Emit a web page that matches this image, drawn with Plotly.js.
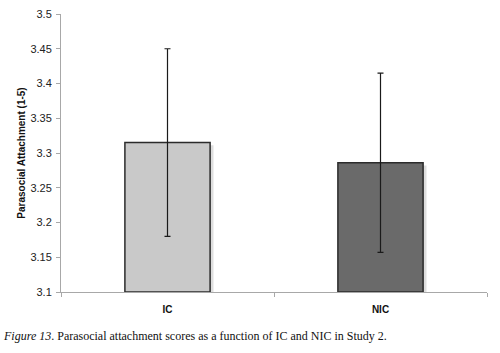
<!DOCTYPE html>
<html>
<head>
<meta charset="utf-8">
<script src="https://cdn.plot.ly/plotly-3.0.1.min.js"></script>
<style>html,body{margin:0;padding:0;background:#fff;}#chart{width:500px;height:353px;}</style>
</head>
<body>
<div id="chart"></div>
<script>
var categories = ["IC", "NIC"];
var means = [3.315, 3.286];
var errors = [0.135, 0.129];
var barColors = ["#c9c9c9", "#6a6a6a"];
var yTickVals = [3.1, 3.15, 3.2, 3.25, 3.3, 3.35, 3.4, 3.45, 3.5];
var yTickText = ["3.1", "3.15", "3.2", "3.25", "3.3", "3.35", "3.4", "3.45", "3.5"];
var yTitle = "Parasocial Attachment (1-5)";
var caption = "<i>Figure 13</i>. Parasocial attachment scores as a function of IC and NIC in Study 2.";

var shadow = {
  type: "bar", x: categories, base: 3.1,
  y: means.map(function(v){ return v - 3.1 - 0.004; }),
  width: 0.4, offset: -0.2 + 0.016,
  marker: {color: "rgba(0,0,0,0.13)", line: {width: 0}},
  hoverinfo: "skip", showlegend: false
};

var bars = {
  type: "bar", x: categories, y: means.map(function(v){ return v - 3.1; }), base: 3.1,
  width: 0.4, offset: -0.2,
  marker: {color: barColors, line: {color: "#2b2b2b", width: 1.5}},
  error_y: {type: "data", array: errors, visible: true, color: "#1a1a1a", thickness: 1.2, width: 3},
  showlegend: false
};

var layout = {
  width: 500, height: 353,
  margin: {l: 61, r: 13, t: 14, b: 61},
  paper_bgcolor: "#fff", plot_bgcolor: "#fff",
  barmode: "overlay",
  showlegend: false,
  font: {family: "Liberation Sans, Arial, sans-serif", color: "#222"},
  xaxis: {
    type: "category", showgrid: false, zeroline: false,
    showline: true, linecolor: "#a8a8a8", linewidth: 1,
    ticks: "outside", tickson: "boundaries", ticklen: 4, tickcolor: "#a8a8a8",
    ticklabelstandoff: 8,
    tickfont: {family: "Liberation Sans, Arial, sans-serif", size: 10, color: "#111", weight: "bold"},
    range: [-0.5, 1.5]
  },
  yaxis: {
    range: [3.1, 3.5], showgrid: false, zeroline: false,
    showline: true, linecolor: "#a8a8a8", linewidth: 1,
    ticks: "outside", ticklen: 4, tickcolor: "#a8a8a8",
    ticklabelstandoff: 2,
    tickvals: yTickVals, ticktext: yTickText,
    tickfont: {family: "Liberation Sans, Arial, sans-serif", size: 11, color: "#222"},
    title: {text: yTitle, standoff: 2, font: {family: "Liberation Sans, Arial, sans-serif", size: 10, color: "#111", weight: "bold"}}
  },
  annotations: [{
    text: caption, xref: "paper", yref: "paper",
    x: -0.14, y: -0.16, xanchor: "left", yanchor: "middle",
    showarrow: false,
    font: {family: "Liberation Serif, Times New Roman, serif", size: 12, color: "#111"}
  }]
};

Plotly.newPlot("chart", [shadow, bars], layout, {displayModeBar: false, staticPlot: true});
</script>
</body>
</html>
